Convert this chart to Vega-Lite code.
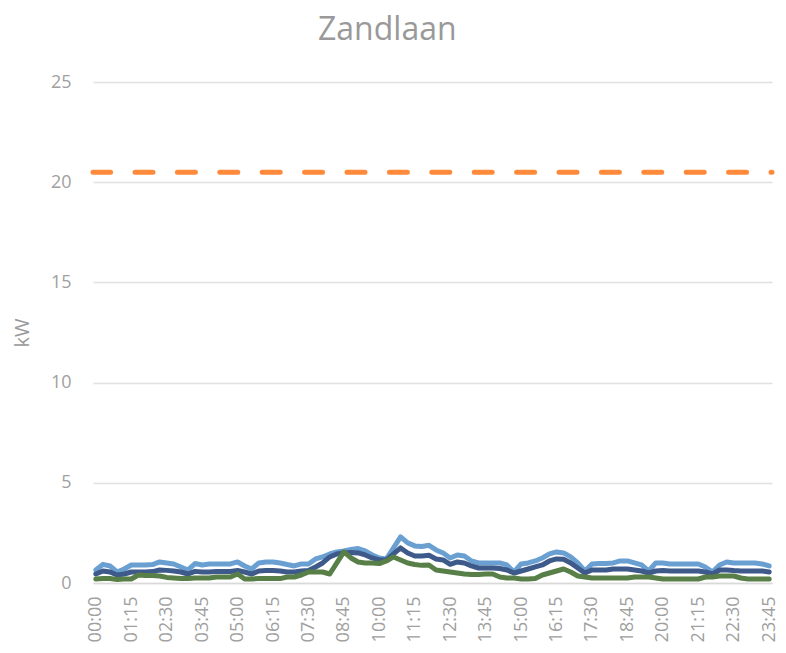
{
  "$schema": "https://vega.github.io/schema/vega-lite/v6.json",
  "width": 679,
  "height": 501,
  "autosize": {"type": "none"},
  "padding": {"left": 93, "top": 82, "right": 14, "bottom": 70},
  "background": "white",
  "title": {"text": "Zandlaan", "fontSize": 32, "font": "Open Sans", "fontWeight": "normal", "color": "#999999", "frame": "bounds", "anchor": "middle", "offset": 26, "dx": -8},
  "config": {"view": {"stroke": null}},
  "datasets": {
    "power": [
      {"t":"00:00","L1":0.65,"L2":0.45,"L3":0.2},
      {"t":"00:15","L1":0.93,"L2":0.6,"L3":0.22},
      {"t":"00:30","L1":0.85,"L2":0.55,"L3":0.22},
      {"t":"00:45","L1":0.55,"L2":0.4,"L3":0.18},
      {"t":"01:00","L1":0.7,"L2":0.45,"L3":0.2},
      {"t":"01:15","L1":0.9,"L2":0.55,"L3":0.2},
      {"t":"01:30","L1":0.9,"L2":0.55,"L3":0.4},
      {"t":"01:45","L1":0.9,"L2":0.55,"L3":0.38},
      {"t":"02:00","L1":0.92,"L2":0.57,"L3":0.38},
      {"t":"02:15","L1":1.05,"L2":0.65,"L3":0.35},
      {"t":"02:30","L1":1.0,"L2":0.63,"L3":0.28},
      {"t":"02:45","L1":0.95,"L2":0.6,"L3":0.25},
      {"t":"03:00","L1":0.8,"L2":0.55,"L3":0.22},
      {"t":"03:15","L1":0.65,"L2":0.45,"L3":0.22},
      {"t":"03:30","L1":0.97,"L2":0.58,"L3":0.25},
      {"t":"03:45","L1":0.9,"L2":0.55,"L3":0.25},
      {"t":"04:00","L1":0.95,"L2":0.55,"L3":0.25},
      {"t":"04:15","L1":0.95,"L2":0.57,"L3":0.3},
      {"t":"04:30","L1":0.95,"L2":0.57,"L3":0.3},
      {"t":"04:45","L1":0.95,"L2":0.57,"L3":0.3},
      {"t":"05:00","L1":1.05,"L2":0.62,"L3":0.45},
      {"t":"05:15","L1":0.85,"L2":0.55,"L3":0.2},
      {"t":"05:30","L1":0.7,"L2":0.45,"L3":0.2},
      {"t":"05:45","L1":1.0,"L2":0.6,"L3":0.22},
      {"t":"06:00","L1":1.05,"L2":0.62,"L3":0.22},
      {"t":"06:15","L1":1.05,"L2":0.62,"L3":0.22},
      {"t":"06:30","L1":1.0,"L2":0.6,"L3":0.22},
      {"t":"06:45","L1":0.92,"L2":0.55,"L3":0.3},
      {"t":"07:00","L1":0.85,"L2":0.55,"L3":0.3},
      {"t":"07:15","L1":0.95,"L2":0.6,"L3":0.4},
      {"t":"07:30","L1":0.95,"L2":0.62,"L3":0.55},
      {"t":"07:45","L1":1.2,"L2":0.8,"L3":0.55},
      {"t":"08:00","L1":1.3,"L2":1.0,"L3":0.55},
      {"t":"08:15","L1":1.45,"L2":1.3,"L3":0.45},
      {"t":"08:30","L1":1.55,"L2":1.45,"L3":1.0},
      {"t":"08:45","L1":1.6,"L2":1.5,"L3":1.55},
      {"t":"09:00","L1":1.67,"L2":1.52,"L3":1.25},
      {"t":"09:15","L1":1.72,"L2":1.5,"L3":1.05},
      {"t":"09:30","L1":1.6,"L2":1.4,"L3":1.0},
      {"t":"09:45","L1":1.4,"L2":1.25,"L3":1.0},
      {"t":"10:00","L1":1.25,"L2":1.15,"L3":0.97},
      {"t":"10:15","L1":1.2,"L2":1.15,"L3":1.1},
      {"t":"10:30","L1":1.75,"L2":1.45,"L3":1.3},
      {"t":"10:45","L1":2.3,"L2":1.75,"L3":1.15},
      {"t":"11:00","L1":2.0,"L2":1.5,"L3":1.0},
      {"t":"11:15","L1":1.85,"L2":1.35,"L3":0.92},
      {"t":"11:30","L1":1.82,"L2":1.35,"L3":0.88},
      {"t":"11:45","L1":1.88,"L2":1.38,"L3":0.9},
      {"t":"12:00","L1":1.65,"L2":1.2,"L3":0.65},
      {"t":"12:15","L1":1.5,"L2":1.15,"L3":0.6},
      {"t":"12:30","L1":1.25,"L2":0.93,"L3":0.55},
      {"t":"12:45","L1":1.4,"L2":1.05,"L3":0.5},
      {"t":"13:00","L1":1.35,"L2":1.0,"L3":0.45},
      {"t":"13:15","L1":1.1,"L2":0.85,"L3":0.42},
      {"t":"13:30","L1":1.0,"L2":0.75,"L3":0.42},
      {"t":"13:45","L1":1.0,"L2":0.75,"L3":0.45},
      {"t":"14:00","L1":1.0,"L2":0.75,"L3":0.45},
      {"t":"14:15","L1":1.0,"L2":0.72,"L3":0.3},
      {"t":"14:30","L1":0.9,"L2":0.65,"L3":0.25},
      {"t":"14:45","L1":0.55,"L2":0.5,"L3":0.25},
      {"t":"15:00","L1":0.95,"L2":0.6,"L3":0.2},
      {"t":"15:15","L1":1.0,"L2":0.7,"L3":0.2},
      {"t":"15:30","L1":1.1,"L2":0.8,"L3":0.22},
      {"t":"15:45","L1":1.25,"L2":0.9,"L3":0.4},
      {"t":"16:00","L1":1.45,"L2":1.1,"L3":0.5},
      {"t":"16:15","L1":1.55,"L2":1.2,"L3":0.6},
      {"t":"16:30","L1":1.5,"L2":1.18,"L3":0.7},
      {"t":"16:45","L1":1.3,"L2":1.0,"L3":0.55},
      {"t":"17:00","L1":1.0,"L2":0.75,"L3":0.35},
      {"t":"17:15","L1":0.6,"L2":0.5,"L3":0.3},
      {"t":"17:30","L1":0.95,"L2":0.65,"L3":0.25},
      {"t":"17:45","L1":0.97,"L2":0.65,"L3":0.25},
      {"t":"18:00","L1":0.97,"L2":0.65,"L3":0.25},
      {"t":"18:15","L1":1.0,"L2":0.7,"L3":0.25},
      {"t":"18:30","L1":1.1,"L2":0.7,"L3":0.25},
      {"t":"18:45","L1":1.1,"L2":0.7,"L3":0.25},
      {"t":"19:00","L1":1.0,"L2":0.65,"L3":0.3},
      {"t":"19:15","L1":0.9,"L2":0.6,"L3":0.3},
      {"t":"19:30","L1":0.6,"L2":0.5,"L3":0.3},
      {"t":"19:45","L1":1.0,"L2":0.6,"L3":0.25},
      {"t":"20:00","L1":1.0,"L2":0.62,"L3":0.2},
      {"t":"20:15","L1":0.95,"L2":0.6,"L3":0.2},
      {"t":"20:30","L1":0.95,"L2":0.6,"L3":0.2},
      {"t":"20:45","L1":0.95,"L2":0.6,"L3":0.2},
      {"t":"21:00","L1":0.95,"L2":0.6,"L3":0.2},
      {"t":"21:15","L1":0.95,"L2":0.6,"L3":0.2},
      {"t":"21:30","L1":0.8,"L2":0.55,"L3":0.3},
      {"t":"21:45","L1":0.55,"L2":0.45,"L3":0.3},
      {"t":"22:00","L1":0.9,"L2":0.65,"L3":0.35},
      {"t":"22:15","L1":1.05,"L2":0.65,"L3":0.35},
      {"t":"22:30","L1":1.0,"L2":0.62,"L3":0.35},
      {"t":"22:45","L1":1.0,"L2":0.6,"L3":0.25},
      {"t":"23:00","L1":1.0,"L2":0.6,"L3":0.2},
      {"t":"23:15","L1":1.0,"L2":0.6,"L3":0.2},
      {"t":"23:30","L1":0.95,"L2":0.6,"L3":0.2},
      {"t":"23:45","L1":0.85,"L2":0.55,"L3":0.2}
    ],
    "limit": [{"limit": 20.5}]
  },
  "layer": [
    {
      "data": {"name": "power"},
      "transform": [{"fold": ["L1", "L2", "L3"], "as": ["series", "kW"]}],
      "mark": {"type": "line", "strokeWidth": 5, "strokeCap": "round", "strokeJoin": "round"},
      "encoding": {
        "x": {
          "field": "t", "type": "ordinal", "sort": null,
          "scale": {"type": "point", "padding": 0.4},
          "axis": {
            "title": null,
            "values": ["00:00","01:15","02:30","03:45","05:00","06:15","07:30","08:45","10:00","11:15","12:30","13:45","15:00","16:15","17:30","18:45","20:00","21:15","22:30","23:45"],
            "labelAngle": -90, "ticks": false, "grid": false,
            "labelPadding": 13, "labelFontSize": 18, "labelFont": "Open Sans",
            "labelColor": "#a0a0a0", "domainColor": "#d9d9d9", "domainWidth": 1.5
          }
        },
        "y": {
          "field": "kW", "type": "quantitative",
          "scale": {"domain": [0, 25], "nice": false},
          "axis": {
            "title": "kW", "values": [0, 5, 10, 15, 20, 25],
            "ticks": false, "domain": false, "grid": true,
            "gridColor": "#e0e0e0", "gridWidth": 1.5,
            "labelPadding": 22, "labelFontSize": 18, "labelFont": "Open Sans", "labelColor": "#a0a0a0",
            "titleFont": "Open Sans", "titleFontSize": 20, "titleFontWeight": "normal", "titleColor": "#999999",
            "titlePadding": 18
          }
        },
        "color": {
          "field": "series", "type": "nominal",
          "scale": {"domain": ["L1", "L2", "L3"], "range": ["#6a9fd2", "#3d5a8a", "#587f47"]},
          "legend": null
        }
      }
    },
    {
      "data": {"name": "limit"},
      "mark": {"type": "rule", "color": "#ff8a3b", "strokeWidth": 5, "strokeDash": [18, 24.4], "strokeDashOffset": 17, "strokeCap": "round"},
      "encoding": {"y": {"field": "limit", "type": "quantitative", "scale": {"domain": [0, 25], "nice": false}}}
    }
  ]
}
